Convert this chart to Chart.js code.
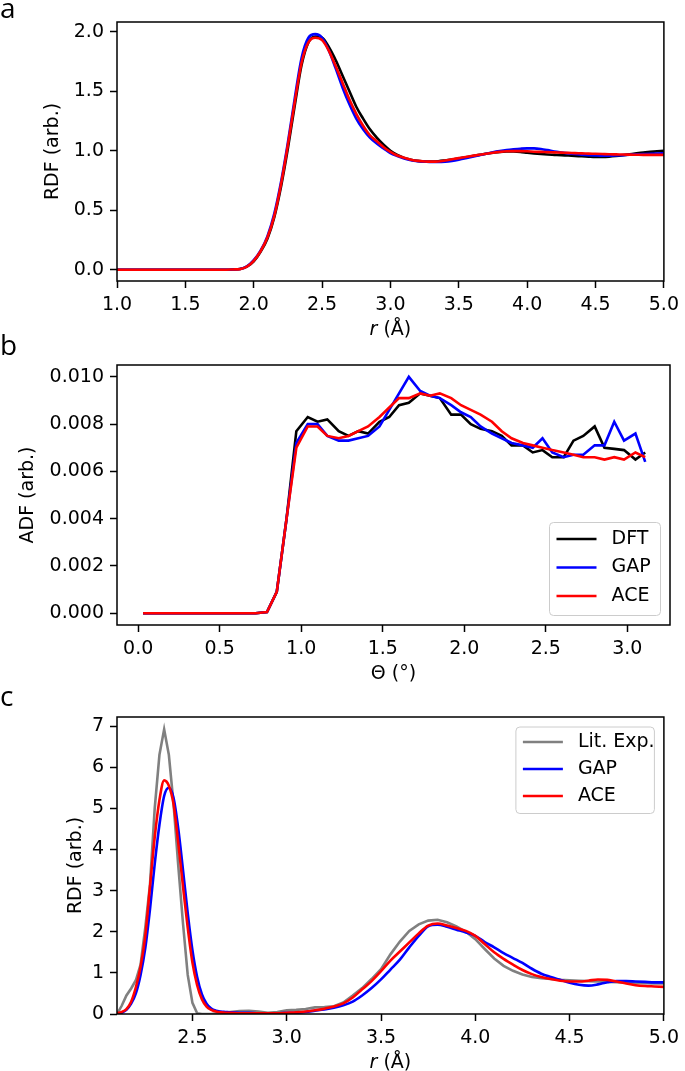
<!DOCTYPE html>
<html>
	<head>
		<meta charset="utf-8">
		<title>RDF / ADF</title>
		<style type="text/css">
			body{margin: 0;background: #fff;}
			.page{position: relative;width: 685px;height: 1071px;overflow: hidden;}
			.panel{position: absolute;left: 0;width: 685px;}
			.tag{position: absolute;left: 0;font-family: "Open Sans", sans-serif;font-size: 28px;line-height: 28px;color: #000;}
		</style>
	</head>
	<body>
		<div class="page">
			<div class="panel" style="top: 0;height: 340px;"><canvas id="chart-a"></canvas></div>
			<div class="panel" style="top: 340px;height: 350px;"><canvas id="chart-b"></canvas></div>
			<div class="panel" style="top: 690px;height: 381px;"><canvas id="chart-c"></canvas></div>
			<div class="tag" style="top: -7px;">a</div>
			<div class="tag" style="top: 330px;">b</div>
			<div class="tag" style="top: 681px;">c</div>
		</div>
		<script src="https://cdn.jsdelivr.net/npm/chart.js@4.4.1/dist/chart.umd.min.js"></script>
		<script type="text/javascript">
			// panel a : RDF
			const rA = [1.00,1.05,1.10,1.15,1.20,1.25,1.30,1.35,1.40,1.45,1.50,1.55,1.60,1.65,1.70,1.75,1.80,
				1.85,1.90,1.95,2.00,2.05,2.10,2.15,2.20,2.25,2.30,2.35,2.40,2.45,2.50,
				2.55,2.60,2.65,2.70,2.75,2.80,2.85,2.90,2.95,3.00,
				3.05,3.10,3.15,3.20,3.25,3.30,3.35,3.40,3.45,3.50,
				3.55,3.60,3.65,3.70,3.75,3.80,3.85,3.90,3.95,4.00,
				4.05,4.10,4.15,4.20,4.25,4.30,4.35,4.40,4.45,4.50,
				4.55,4.60,4.65,4.70,4.75,4.80,4.85,4.90,4.95,5.00];
			const dftA = [0,0,0,0,0,0,0,0,0,0,0,0,0,0,0,0,0,
				0.002,0.006,0.025,0.07,0.15,0.26,0.44,0.70,1.02,1.38,1.72,1.91,1.96,1.95,
				1.87,1.76,1.63,1.50,1.37,1.27,1.18,1.11,1.05,1.00,
				0.965,0.94,0.925,0.915,0.91,0.91,0.912,0.918,0.925,0.935,
				0.945,0.955,0.965,0.975,0.983,0.99,0.993,0.993,0.99,0.983,
				0.977,0.972,0.968,0.965,0.962,0.96,0.957,0.953,0.95,0.948,
				0.948,0.95,0.955,0.962,0.97,0.978,0.985,0.99,0.995,1.0];
			const gapA = [0,0,0,0,0,0,0,0,0,0,0,0,0,0,0,0,0,
				0.002,0.006,0.028,0.08,0.16,0.28,0.47,0.74,1.07,1.44,1.78,1.95,1.98,1.95,
				1.84,1.69,1.53,1.39,1.27,1.18,1.11,1.06,1.02,0.98,
				0.955,0.935,0.92,0.912,0.908,0.905,0.905,0.908,0.915,0.925,
				0.937,0.95,0.962,0.975,0.988,0.998,1.006,1.012,1.017,1.02,
				1.02,1.015,1.005,0.993,0.985,0.978,0.972,0.967,0.963,0.96,
				0.958,0.958,0.96,0.963,0.966,0.969,0.972,0.975,0.977,0.978];
			const aceA = [0,0,0,0,0,0,0,0,0,0,0,0,0,0,0,0,0,
				0.002,0.005,0.025,0.075,0.155,0.27,0.45,0.72,1.05,1.41,1.74,1.91,1.95,1.93,
				1.84,1.71,1.57,1.43,1.31,1.21,1.13,1.08,1.03,0.99,
				0.96,0.94,0.925,0.915,0.91,0.908,0.91,0.918,0.928,0.938,
				0.948,0.957,0.966,0.975,0.983,0.99,0.995,0.997,0.997,0.995,
				0.992,0.99,0.988,0.986,0.984,0.982,0.98,0.978,0.976,0.974,
				0.972,0.97,0.969,0.968,0.967,0.966,0.965,0.965,0.965,0.965];
			const xTicksA = [1.0,1.5,2.0,2.5,3.0,3.5,4.0,4.5,5.0];
			const yTicksA = [0.0,0.5,1.0,1.5,2.0];

			// panel b : ADF
			const thetaB = [0.03,0.09,0.16,0.22,0.28,0.35,0.41,0.47,0.53,0.60,
				0.66,0.72,0.79,0.85,0.91,0.97,1.04,1.10,1.16,1.23,
				1.29,1.35,1.41,1.48,1.54,1.60,1.66,1.73,1.79,1.85,
				1.92,1.98,2.04,2.10,2.17,2.23,2.29,2.36,2.42,2.48,
				2.54,2.61,2.67,2.73,2.80,2.86,2.92,2.98,3.05,3.11];
			const dftB = [0,0,0,0,0,0,0,0,0,0,
				0,0,0.00005,0.0009,0.0040,0.0077,0.0083,0.0081,0.0082,0.0077,
				0.0075,0.0077,0.0076,0.0081,0.0083,0.0088,0.0089,0.0093,0.0092,0.0091,
				0.0084,0.0084,0.0080,0.0078,0.0077,0.0075,0.0071,0.0071,0.0068,0.0069,
				0.0066,0.0066,0.0073,0.0075,0.0079,0.0070,0.00695,0.0069,0.0065,0.0068];
			const gapB = [0,0,0,0,0,0,0,0,0,0,
				0,0,0.00005,0.0009,0.0040,0.0072,0.0080,0.0080,0.0075,0.0073,
				0.0073,0.0074,0.0075,0.0079,0.0086,0.0093,0.0100,0.0094,0.0092,0.0091,
				0.0088,0.0085,0.0083,0.0079,0.0076,0.0074,0.0072,0.0071,0.0070,0.0074,
				0.0068,0.0066,0.0067,0.0067,0.0071,0.0071,0.0081,0.0073,0.0076,0.0064];
			const aceB = [0,0,0,0,0,0,0,0,0,0,
				0,0,0.00005,0.0009,0.0040,0.0070,0.0079,0.0079,0.0075,0.0074,
				0.0075,0.0077,0.0079,0.0083,0.0087,0.0091,0.0091,0.0093,0.0092,0.0093,
				0.0091,0.0088,0.0086,0.0084,0.0081,0.0077,0.0074,0.0072,0.0071,0.0070,
				0.0069,0.0068,0.0067,0.0066,0.0066,0.0065,0.0066,0.0065,0.0068,0.0066];
			const xTicksB = [0.0,0.5,1.0,1.5,2.0,2.5,3.0];
			const yTicksB = [0.000,0.002,0.004,0.006,0.008,0.010];

			// panel c : RDF vs experiment
			const rC = [2.100,2.125,2.150,2.175,2.200,2.225,2.250,2.275,2.300,2.325,2.350,2.375,2.400,
				2.425,2.450,2.475,2.500,2.525,2.550,2.575,2.600,2.625,2.650,2.675,2.700,
				2.75,2.80,2.85,2.90,2.95,3.00,
				3.05,3.10,3.15,3.20,3.25,3.30,3.35,3.40,3.45,3.50,
				3.55,3.60,3.65,3.70,3.75,3.80,3.85,3.90,3.95,4.00,
				4.05,4.10,4.15,4.20,4.25,4.30,4.35,4.40,4.45,4.50,
				4.55,4.60,4.65,4.70,4.75,4.80,4.85,4.90,4.95,5.00];
			const expC = [0.0,0.2,0.45,0.62,0.82,1.2,2.1,3.15,5.0,6.3,6.92,6.3,5.1,
				3.6,2.2,0.95,0.27,0.02,0.0,0.0,0.0,0.01,0.02,0.04,0.05,
				0.07,0.08,0.06,0.03,0.05,0.09,
				0.10,0.12,0.16,0.17,0.19,0.28,0.45,0.63,0.85,1.09,
				1.45,1.76,2.02,2.18,2.27,2.29,2.23,2.13,2.00,1.82,
				1.58,1.35,1.17,1.05,0.96,0.90,0.87,0.85,0.83,0.82,
				0.81,0.80,0.79,0.78,0.77,0.76,0.75,0.75,0.74,0.74];
			const gapC = [0.0,0.03,0.1,0.25,0.5,0.95,1.6,2.55,3.65,4.6,5.3,5.5,5.25,
				4.5,3.5,2.45,1.55,0.9,0.48,0.25,0.13,0.08,0.06,0.05,0.04,
				0.03,0.03,0.02,0.02,0.02,0.03,
				0.03,0.05,0.08,0.11,0.15,0.21,0.30,0.45,0.63,0.84,
				1.08,1.32,1.62,1.90,2.13,2.17,2.12,2.05,1.98,1.90,
				1.75,1.62,1.48,1.36,1.24,1.10,0.98,0.90,0.83,0.76,
				0.71,0.69,0.72,0.77,0.80,0.80,0.79,0.78,0.77,0.77];
			const aceC = [0.02,0.05,0.12,0.3,0.65,1.15,1.9,3.1,4.3,5.2,5.68,5.55,5.1,
				4.15,3.1,2.1,1.25,0.7,0.36,0.18,0.1,0.06,0.04,0.03,0.03,
				0.02,0.02,0.02,0.02,0.02,0.03,
				0.04,0.06,0.09,0.13,0.18,0.26,0.40,0.60,0.80,1.04,
				1.30,1.52,1.74,1.96,2.15,2.20,2.15,2.09,2.02,1.90,
				1.70,1.50,1.34,1.20,1.07,0.97,0.90,0.85,0.81,0.79,
				0.79,0.81,0.84,0.83,0.79,0.74,0.70,0.68,0.67,0.66];
			const xTicksC = [2.5,3.0,3.5,4.0,4.5,5.0];
			const yTicksC = [0,1,2,3,4,5,6,7];

			const FONT = '"DejaVu Sans", sans-serif';
			Chart.defaults.font.family = FONT;
			Chart.defaults.font.size = 19;
			Chart.defaults.color = '#000';

			function fontOf(italic){
				return (italic ? 'italic ' : '') + '19px ' + FONT;
			}

			function series(label, xs, ys, color, order, smooth){
				return {
					label: label,
					data: xs.map(function(x, i){ return {x: x, y: ys[i]}; }),
					borderColor: color,
					backgroundColor: color,
					borderWidth: 2.6,
					pointRadius: 0,
					fill: false,
					order: order,
					tension: 0,
					cubicInterpolationMode: smooth ? 'monotone' : 'default'
				};
			}

			function axis(min, max, ticks, digits, fit){
				return {
					type: 'linear',
					min: min,
					max: max,
					afterBuildTicks: function(s){ s.ticks = ticks.map(function(v){ return {value: v}; }); },
					afterFit: fit,
					border: {display: false},
					grid: {drawOnChartArea: false, drawTicks: true, tickLength: 7, tickWidth: 1.5, tickColor: '#000'},
					ticks: {
						autoSkip: false,
						maxRotation: 0,
						padding: 6,
						color: '#000',
						callback: function(v){ return Number(v).toFixed(digits); }
					}
				};
			}

			// frame, axis titles and the legend box inside the plot
			function decor(d){
				return {
					id: 'decor',
					afterDraw: function(chart){
						let ctx = chart.ctx, a = chart.chartArea;
						ctx.save();
						ctx.strokeStyle = '#000';
						ctx.lineWidth = 1.5;
						ctx.strokeRect(a.left, a.top, a.right - a.left, a.bottom - a.top);

						ctx.fillStyle = '#000';
						ctx.textBaseline = 'middle';
						ctx.textAlign = 'left';
						let w = 0;
						for(let p of d.xTitle){ ctx.font = fontOf(p[1]); w += ctx.measureText(p[0]).width; }
						let x = (a.left + a.right) / 2 - w / 2;
						for(let p of d.xTitle){
							ctx.font = fontOf(p[1]);
							ctx.fillText(p[0], x, a.bottom + 49);
							x += ctx.measureText(p[0]).width;
						}

						ctx.save();
						ctx.translate(d.yTitleX, (a.top + a.bottom) / 2);
						ctx.rotate(-Math.PI / 2);
						ctx.font = fontOf(false);
						ctx.textAlign = 'center';
						ctx.fillText(d.yTitle, 0, 0);
						ctx.restore();

						if(d.legend){
							let L = d.legend;
							let bx = a.right - L.right - L.w;
							let by = L.top != null ? a.top + L.top : a.bottom - L.bottom - L.h;
							ctx.beginPath();
							ctx.roundRect(bx, by, L.w, L.h, 4);
							ctx.fillStyle = 'rgba(255,255,255,0.8)';
							ctx.fill();
							ctx.strokeStyle = '#cccccc';
							ctx.lineWidth = 1;
							ctx.stroke();
							ctx.font = fontOf(false);
							chart.data.datasets.forEach(function(ds, i){
								let yy = by + L.first + i * L.gap;
								ctx.strokeStyle = ds.borderColor;
								ctx.lineWidth = 2.6;
								ctx.beginPath();
								ctx.moveTo(bx + 7, yy);
								ctx.lineTo(bx + 47, yy);
								ctx.stroke();
								ctx.fillStyle = '#000';
								ctx.fillText(ds.label, bx + 62, yy);
							});
						}
						ctx.restore();
					}
				};
			}

			function panel(id, p){
				return new Chart(document.getElementById(id), {
					type: 'line',
					data: {datasets: p.datasets},
					options: {
						responsive: true,
						maintainAspectRatio: false,
						animation: false,
						events: [],
						layout: {padding: {left: 0, right: 15, top: p.padTop, bottom: 0}},
						scales: {
							x: axis(p.xMin, p.xMax, p.xTicks, p.xDigits, function(s){ s.height = p.xAxisH; }),
							y: axis(p.yMin, p.yMax, p.yTicks, p.yDigits, function(s){ s.width = 117; })
						},
						plugins: {legend: {display: false}, tooltip: {enabled: false}}
					},
					plugins: [decor(p.decor)]
				});
			}

			panel('chart-a', {
				datasets: [
					series('DFT', rA, dftA, '#000000', 3, true),
					series('GAP', rA, gapA, '#0000ff', 2, true),
					series('ACE', rA, aceA, '#ff0000', 1, true)
				],
				xMin: 1.0, xMax: 5.0, xTicks: xTicksA, xDigits: 1,
				yMin: -0.095, yMax: 2.082, yTicks: yTicksA, yDigits: 1,
				padTop: 22, xAxisH: 59,
				decor: {xTitle: [['r', true], [' (Å)', false]], yTitle: 'RDF (arb.)', yTitleX: 53}
			});

			panel('chart-b', {
				datasets: [
					series('DFT', thetaB, dftB, '#000000', 3, false),
					series('GAP', thetaB, gapB, '#0000ff', 2, false),
					series('ACE', thetaB, aceB, '#ff0000', 1, false)
				],
				xMin: -0.13, xMax: 3.262, xTicks: xTicksB, xDigits: 1,
				yMin: -0.0005, yMax: 0.0105, yTicks: yTicksB, yDigits: 3,
				padTop: 25, xAxisH: 65,
				decor: {
					xTitle: [['Θ (°)', false]], yTitle: 'ADF (arb.)', yTitleX: 28,
					legend: {right: 9.5, bottom: 9.5, w: 111, h: 93, first: 16.5, gap: 28.5}
				}
			});

			panel('chart-c', {
				datasets: [
					series('Lit. Exp.', rC, expC, '#808080', 3, false),
					series('GAP', rC, gapC, '#0000ff', 2, true),
					series('ACE', rC, aceC, '#ff0000', 1, true)
				],
				xMin: 2.1, xMax: 5.0, xTicks: xTicksC, xDigits: 1,
				yMin: 0, yMax: 7.22, yTicks: yTicksC, yDigits: 0,
				padTop: 27, xAxisH: 57,
				decor: {
					xTitle: [['r', true], [' (Å)', false]], yTitle: 'RDF (arb.)', yTitleX: 76,
					legend: {right: 9.5, top: 10, w: 138.5, h: 86.5, first: 15, gap: 27}
				}
			});
		</script>
	</body>
</html>
